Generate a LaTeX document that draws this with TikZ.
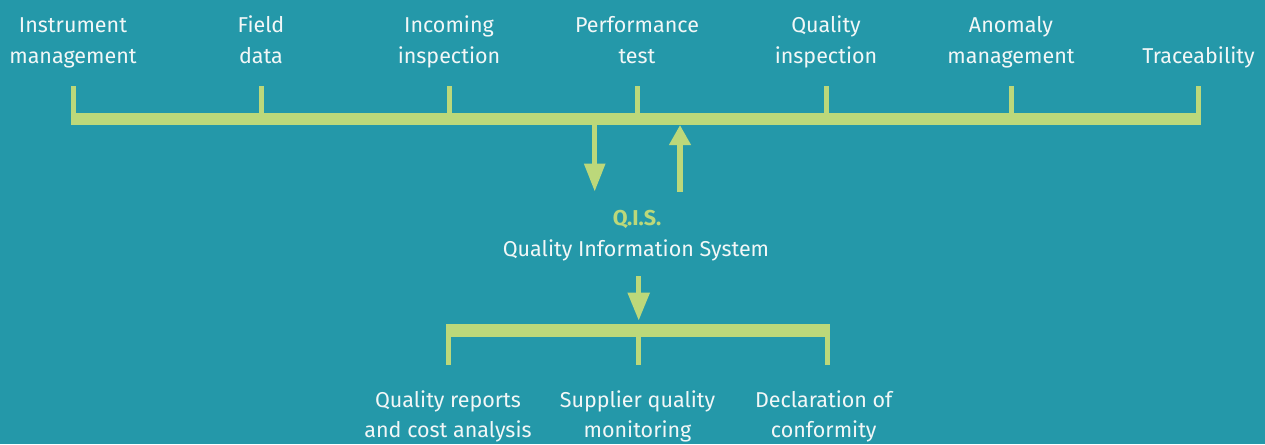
\documentclass[tikz,border=0pt]{standalone}
\usepackage{fontspec}
\setmainfont{Fira Sans}
\usetikzlibrary{arrows.meta}
\definecolor{bg}{HTML}{2498A9}
\definecolor{lime}{HTML}{BCD87A}
\definecolor{txt}{HTML}{F2F7F7}
\begin{document}
\begin{tikzpicture}[x=1pt,y=-1pt,
  lbl/.style={text=txt, font=\fontsize{21.5}{31}\selectfont, align=center, anchor=base, inner sep=0pt},
  barline/.style={draw=lime, line width=12.5pt},
  tickline/.style={draw=lime, line width=5pt},
  arr/.style={draw=lime, line width=5.3pt},
]
\fill[bg] (0,0) rectangle (1265,444);
\useasboundingbox (0,0) rectangle (1265,444);

% top labels
\node[lbl] (l1) at (73,63.3) {Instrument\\management};
\node[lbl] (l2) at (261,63.3) {Field\\data};
\node[lbl] (l3) at (449,63.3) {Incoming\\inspection};
\node[lbl] (l4) at (637,63.3) {Performance\\test};
\node[lbl] (l5) at (826,63.3) {Quality\\inspection};
\node[lbl] (l6) at (1011,63.3) {Anomaly\\management};
\node[lbl] (l7) at (1198.5,63.3) {Traceability};

% top bar
\coordinate (barL) at (71,119);
\coordinate (barR) at (1201,119);
\draw[barline] (barL) -- (barR);
\foreach \i/\x in {1/73.5,2/261,3/449,4/637,5/826,6/1011,7/1198.5}{
  \coordinate (t\i) at (\x,86);
  \draw[tickline] (t\i) -- (t\i |- barL);
}

% QIS
\node[lbl, text=lime, font=\fontsize{21.5}{31}\selectfont\bfseries] (qis) at (637,225) {Q.I.S.};
\node[lbl] (qisname) at (636,256.7) {Quality Information System};

% arrows between bar and QIS
\coordinate (dtop) at (594.7,125);
\coordinate (dend) at (594.7,191.7);
\draw[arr, -{Triangle[length=28pt,width=20pt]}] (dtop) -- (dend);
\coordinate (ubot) at (680,191.7);
\coordinate (uend) at (680,125);
\draw[arr, -{Triangle[length=20pt,width=20.7pt]}] (ubot) -- (uend);

% arrow to bottom bar
\coordinate (btop) at (638.7,276);
\coordinate (bend) at (638.7,320.7);
\draw[arr, -{Triangle[length=28pt,width=21pt]}] (btop) -- (bend);

% bottom bar
\coordinate (bbL) at (446,330.5);
\coordinate (bbR) at (830,330.5);
\draw[barline, line width=13pt] (bbL) -- (bbR);
\foreach \i/\x in {1/448.5,2/638,3/827.5}{
  \coordinate (b\i) at (\x,365);
  \draw[tickline] (b\i |- bbL) -- (b\i);
}

% bottom labels
\tikzset{blbl/.style={lbl, font=\fontsize{21.5}{30}\selectfont}}
\node[blbl] (o1) at (448,437.7) {Quality reports\\and cost analysis};
\node[blbl] (o2) at (637.5,437.7) {Supplier quality\\monitoring};
\node[blbl] (o3) at (823.7,437.7) {Declaration of\\conformity};
\end{tikzpicture}
\end{document}
